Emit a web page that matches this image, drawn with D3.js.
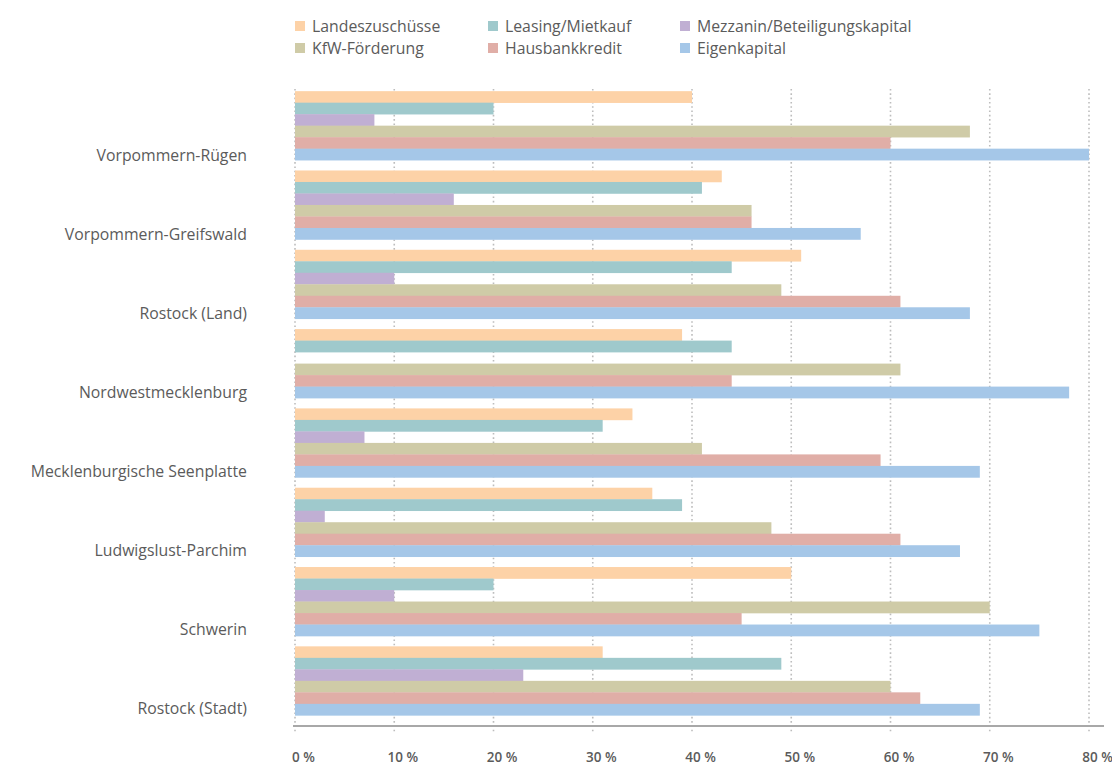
<!DOCTYPE html>
<html>
<head>
<meta charset="utf-8">
<script src="https://cdn.jsdelivr.net/npm/d3@7"></script>
<style>
  html, body { margin: 0; padding: 0; background: #fff; }
  svg { display: block; }
  text { font-family: "Open Sans", "Noto Sans", sans-serif; fill: #5b5b5b; }
</style>
</head>
<body>
<svg id="chart" width="1112" height="765"></svg>
<script>
// Districts (top to bottom)
const categories = [
  "Vorpommern-Rügen",
  "Vorpommern-Greifswald",
  "Rostock (Land)",
  "Nordwestmecklenburg",
  "Mecklenburgische Seenplatte",
  "Ludwigslust-Parchim",
  "Schwerin",
  "Rostock (Stadt)"
];

// Financing sources, in bar order within each group
const seriesNames = [
  "Landeszuschüsse",
  "Leasing/Mietkauf",
  "Mezzanin/Beteiligungskapital",
  "KfW-Förderung",
  "Hausbankkredit",
  "Eigenkapital"
];

// Shares in percent, one value per district
const landeszuschuesse = [40, 43, 51, 39, 34, 36, 50, 31];
const leasingMietkauf  = [20, 41, 44, 44, 31, 39, 20, 49];
const mezzanin         = [8, 16, 10, 0, 7, 3, 10, 23];
const kfwFoerderung    = [68, 46, 49, 61, 41, 48, 70, 60];
const hausbankkredit   = [60, 46, 61, 44, 59, 61, 45, 63];
const eigenkapital     = [80, 57, 68, 78, 69, 67, 75, 69];

const xTicks = [0, 10, 20, 30, 40, 50, 60, 70, 80];

const seriesValues = [landeszuschuesse, leasingMietkauf, mezzanin, kfwFoerderung, hausbankkredit, eigenkapital];
const colors = ["#fdd2a7", "#9fc9cc", "#c0afd3", "#cfcba7", "#e0aea7", "#a5c7e8"];

const svg = d3.select("#chart");

const x = d3.scaleLinear().domain([0, 80]).range([295, 1089]);
const y = d3.scaleBand().domain(categories).range([86, 720.5]).paddingInner(0.13).paddingOuter(0.065);
const yInner = d3.scaleBand().domain(seriesNames).range([0, y.bandwidth()]);
const yLabel = d3.scalePoint().domain(categories).range([155, 708]);
const color = d3.scaleOrdinal().domain(seriesNames).range(colors);

// Dotted vertical gridlines
svg.append("g")
  .selectAll("line")
  .data(xTicks)
  .join("line")
  .attr("x1", d => x(d)).attr("x2", d => x(d))
  .attr("y1", 89).attr("y2", 732)
  .attr("stroke", "#bdbdbd")
  .attr("stroke-width", 1.6)
  .attr("stroke-dasharray", "1.6,2.7");

// Bars
const groups = svg.append("g")
  .selectAll("g")
  .data(categories)
  .join("g")
  .attr("transform", d => `translate(0,${y(d)})`);

groups.selectAll("rect")
  .data((d, i) => seriesNames.map((s, j) => ({ series: s, value: seriesValues[j][i] })))
  .join("rect")
  .attr("x", x(0))
  .attr("y", d => yInner(d.series))
  .attr("width", d => Math.max(0, x(d.value) - x(0)))
  .attr("height", yInner.bandwidth() + 0.3)
  .attr("fill", d => color(d.series));

// Category labels
svg.append("g")
  .selectAll("text")
  .data(categories)
  .join("text")
  .attr("x", 247)
  .attr("y", d => yLabel(d))
  .attr("text-anchor", "end")
  .attr("dominant-baseline", "central")
  .attr("font-size", 15.8)
  .text(d => d);

// Baseline
svg.append("line")
  .attr("x1", 293).attr("x2", 1104)
  .attr("y1", 726).attr("y2", 726)
  .attr("stroke", "#a8a8a8")
  .attr("stroke-width", 2);

// X axis tick labels
const xAxis = d3.axisBottom(x)
  .tickValues(xTicks)
  .tickFormat(d => d + " %")
  .tickSize(0)
  .tickPadding(0);

const axisG = svg.append("g")
  .attr("transform", "translate(8,757)")
  .call(xAxis);
axisG.select(".domain").remove();
axisG.selectAll("text")
  .attr("dy", null)
  .attr("dominant-baseline", "central")
  .attr("font-size", 13.5)
  .attr("font-weight", 600)
  .style("font-family", "'Open Sans', sans-serif")
  .attr("fill", "#5b5b5b");

// Legend: three columns, two rows
const legendCols = [295, 488, 680];
const legendRows = [26, 48];
const legend = svg.append("g")
  .selectAll("g")
  .data(seriesNames)
  .join("g")
  .attr("transform", (d, i) => `translate(${legendCols[i % 3]},${legendRows[Math.floor(i / 3)]})`);

legend.append("rect")
  .attr("x", 0).attr("y", -5)
  .attr("width", 10).attr("height", 10)
  .attr("fill", d => color(d));

legend.append("text")
  .attr("x", 17)
  .attr("y", 0)
  .attr("dominant-baseline", "central")
  .attr("font-size", 15.8)
  .text(d => d);
</script>
</body>
</html>
